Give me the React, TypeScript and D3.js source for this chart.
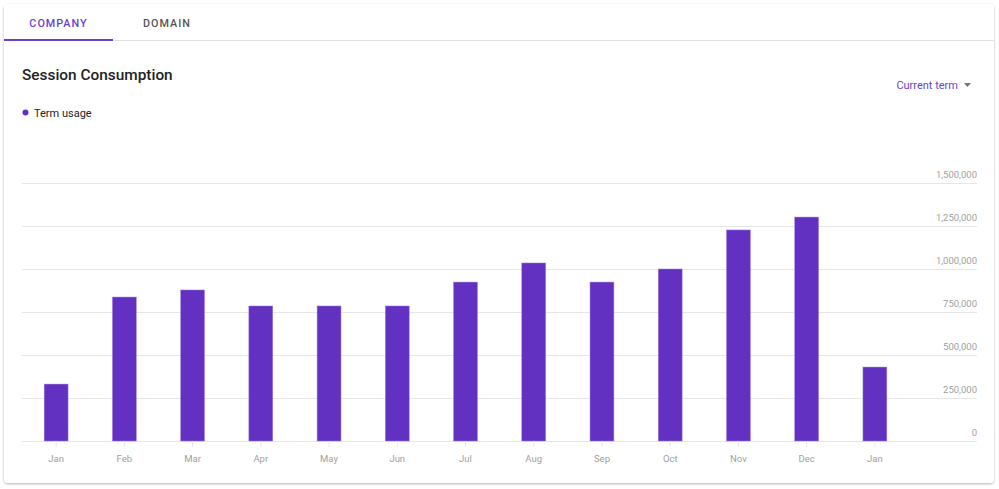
import React from "react";
import * as d3 from "d3";

const months = ["Jan", "Feb", "Mar", "Apr", "May", "Jun", "Jul", "Aug", "Sep", "Oct", "Nov", "Dec", "Jan "];
const usage = [331000, 837000, 878000, 785000, 785000, 785000, 924000, 1035000, 924000, 1000000, 1227000, 1302000, 430000];
const yTicks = [0, 250000, 500000, 750000, 1000000, 1250000, 1500000];
const tabs = ["COMPANY", "DOMAIN"];

const W = 999;
const H = 489;
const PURPLE = "#6331c1";
const FONT = "Roboto, 'Noto Sans', sans-serif";

export default function App() {
  const x = d3.scaleBand<string>().domain(months).range([22, 909]).paddingInner(0.65).paddingOuter(0.325);
  const y = d3.scaleLinear().domain([0, 1500000]).range([441, 183]);
  const fmt = d3.format(",");

  return (
    <div style={{ position: "absolute", left: 0, top: 0, width: W, height: H, background: "#fff" }}>
      <svg width={W} height={H} style={{ display: "block", fontFamily: FONT }}>
        <defs>
          <filter id="sh" x="-5%" y="-5%" width="110%" height="110%">
            <feDropShadow dx="0" dy="1" stdDeviation="1.2" floodColor="#000" floodOpacity="0.3" />
          </filter>
        </defs>
        <rect x={4} y={4} width={990} height={479} rx={4} fill="#fff" filter="url(#sh)" />
        {/* tabs */}
        <line x1={4} x2={994} y1={40.5} y2={40.5} stroke="#e2e2e2" strokeWidth={1} />
        <rect x={4} y={39} width={109} height={2} fill="#6a3fd0" />
        {tabs.map((t, i) => (
          <text
            key={t}
            x={i === 0 ? 58.5 : 167}
            y={27}
            textAnchor="middle"
            fontSize={10.8}
            fontWeight={500}
            letterSpacing={1.0}
            fill={i === 0 ? "#6a3fd0" : "#555"}
          >
            {t}
          </text>
        ))}
        <text x={22} y={80} fontSize={15.4} fontWeight={500} fill="#222">
          Session Consumption
        </text>
        <circle cx={25.5} cy={112.5} r={3} fill={PURPLE} />
        <text x={34} y={116.5} fontSize={11} fill="#222">
          Term usage
        </text>
        <text x={958} y={89} textAnchor="end" fontSize={11} fill="#6a3fd0">
          Current term
        </text>
        <path d="M964,83 L971,83 L967.5,87 Z" fill="#757575" />
        {/* grid */}
        {yTicks.map((t) => (
          <g key={t}>
            <line x1={22} x2={977} y1={y(t) + 0.5} y2={y(t) + 0.5} stroke="#e6e6e6" strokeWidth={1} />
            <text x={977} y={y(t) - 5} textAnchor="end" fontSize={9.5} fill="#a0a0a0">
              {fmt(t)}
            </text>
          </g>
        ))}
        {months.map((m, i) => {
          const cx = (x(m) as number) + x.bandwidth() / 2;
          return (
            <g key={m + i}>
              <rect
                x={x(m)}
                y={y(usage[i])}
                width={x.bandwidth()}
                height={y(0) - y(usage[i])}
                fill={PURPLE}
                stroke="#9f7ee0"
                strokeWidth={0.5}
              />
              <line x1={cx} x2={cx} y1={441} y2={447} stroke="#e6e6e6" />
              <text x={cx} y={462} textAnchor="middle" fontSize={9.5} fill="#a0a0a0">
                {m.trim()}
              </text>
            </g>
          );
        })}
      </svg>
    </div>
  );
}
